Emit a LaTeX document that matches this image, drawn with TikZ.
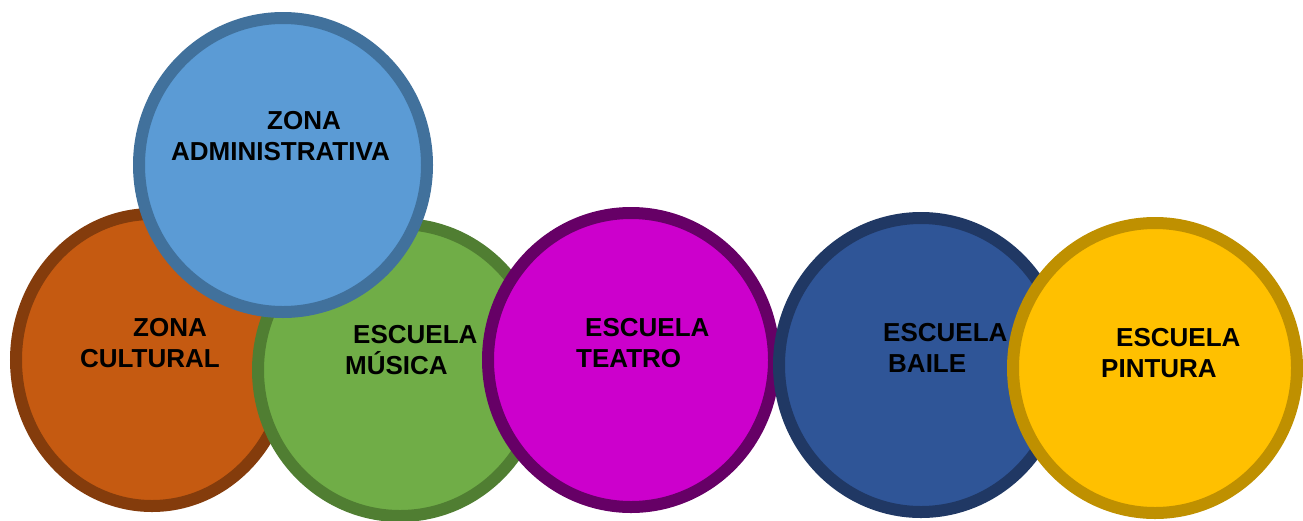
\documentclass[tikz,border=0pt]{standalone}
\usepackage{fontspec}
\setmainfont{Liberation Sans}
\usetikzlibrary{shapes.geometric}

\definecolor{cultfill}{HTML}{C55A11}
\definecolor{cultline}{HTML}{843C0C}
\definecolor{admfill}{HTML}{5B9BD5}
\definecolor{admline}{HTML}{41719C}
\definecolor{musfill}{HTML}{70AD47}
\definecolor{musline}{HTML}{507E32}
\definecolor{teafill}{HTML}{CC00CC}
\definecolor{tealine}{HTML}{660066}
\definecolor{baifill}{HTML}{2F5597}
\definecolor{bailine}{HTML}{203864}
\definecolor{pinfill}{HTML}{FFC000}
\definecolor{pinline}{HTML}{BF9000}

\begin{document}
\begin{tikzpicture}[x=1pt,y=-1pt,
                    zone/.style={ellipse,line width=12pt,inner sep=0pt},
                    tag/.style={align=left,inner sep=0pt,anchor=north west,
                                font=\fontsize{26}{31}\selectfont\bfseries}]

  \useasboundingbox (0,0) rectangle (1303,520);
  \clip (0,0) rectangle (1303,520);

  % circles, back to front
  \node[zone,fill=cultfill,draw=cultline,minimum width=272pt,minimum height=292pt] (cult) at (152,360) {};
  \node[zone,fill=musfill,draw=musline,minimum width=284pt,minimum height=292pt] (musica) at (400,370) {};
  \node[zone,fill=admfill,draw=admline,minimum width=288pt,minimum height=294pt] (admin) at (283,165) {};
  \node[zone,fill=teafill,draw=tealine,minimum width=286pt,minimum height=294pt] (teatro) at (631,360) {};
  \node[zone,fill=baifill,draw=bailine,minimum width=284pt,minimum height=294pt] (baile) at (921,365) {};
  \node[zone,fill=pinfill,draw=pinline,minimum width=284pt,minimum height=290pt] (pintura) at (1155,368) {};

  % labels
  \node[tag] (tcult) at (80,318)    {\hspace*{53pt}ZONA\\CULTURAL};
  \node[tag] (tadmin) at (171,111)  {\hspace*{96pt}ZONA\\ADMINISTRATIVA};
  \node[tag] (tmusica) at (345,325) {\hspace*{8pt}ESCUELA\\MÚSICA};
  \node[tag] (tteatro) at (576,318) {\hspace*{9pt}ESCUELA\\TEATRO};
  \node[tag] (tbaile) at (883,323)  {ESCUELA\\\hspace*{5pt}BAILE};
  \node[tag] (tpintura) at (1101,328) {\hspace*{15pt}ESCUELA\\PINTURA};

\end{tikzpicture}
\end{document}
